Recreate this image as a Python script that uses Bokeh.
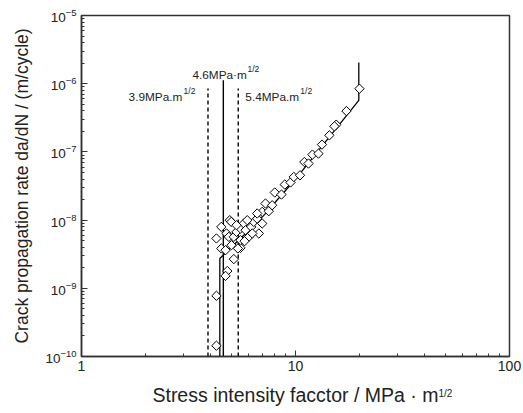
from bokeh.plotting import figure
from bokeh.models import FixedTicker, LogTickFormatter, Label
from bokeh.embed import file_html
from bokeh.resources import INLINE

# ---- data ----
delta_k = [4.27, 4.27, 4.80, 4.71, 5.15, 4.27, 4.50, 4.93, 5.01, 4.50, 4.71, 4.76, 4.88,
           5.15, 5.30, 5.53, 5.53, 5.73, 5.84, 6.05, 6.21, 6.38, 6.74, 6.62, 6.99, 6.99,
           7.24, 7.50, 7.78, 8.00, 8.60, 8.91, 9.48, 9.82, 10.5, 11.0, 11.5, 12.0, 12.8,
           13.3, 14.4, 15.5, 17.3, 19.9, 5.38, 5.53, 6.28, 6.62, 5.95, 5.30, 15.2, 5.02, 5.78]
dadn = [1.44e-10, 7.76e-10, 1.79e-9, 1.52e-9, 2.68e-9, 5.38e-9, 7.95e-9, 9.97e-9, 9.41e-9,
        3.84e-9, 3.62e-9, 6.37e-9, 5.68e-9, 5.68e-9, 6.71e-9, 3.92e-9, 7.53e-9, 8.91e-9,
        7.11e-9, 5.68e-9, 7.95e-9, 9.41e-9, 6.37e-9, 1.05e-8, 8.91e-9, 1.32e-8, 1.75e-8,
        1.35e-8, 1.65e-8, 2.54e-8, 2.37e-8, 3.32e-8, 3.56e-8, 4.29e-8, 4.54e-8, 7.11e-8,
        6.75e-8, 9.12e-8, 9.44e-8, 1.28e-7, 1.75e-7, 2.51e-7, 3.97e-7, 8.45e-7, 3.84e-9,
        5.08e-9, 6.37e-9, 1.25e-8, 9.97e-9, 8.41e-9, 2.37e-7, 4.29e-9, 4.91e-9]

fit_k = [4.43, 4.43, 5.73, 7.11, 10.2, 14.6, 19.76, 19.76]
fit_rate = [1e-10, 2.74e-9, 6.01e-9, 1.18e-8, 4.29e-8, 1.75e-7, 5.69e-7, 2.05e-6]

threshold_k = [3.9, 4.6, 5.4]
threshold_top = [8.5e-7, 1.12e-6, 8.5e-7]
threshold_style = ["4 3", "solid", "4 3"]
threshold_text = ["3.9MPa.m", "4.6MPa\u00b7m", "5.4MPa.m"]

x_ticks = [1, 10, 100]
x_tick_labels = ["1", "10", "100"]
y_ticks = [1e-10, 1e-9, 1e-8, 1e-7, 1e-6, 1e-5]

x_label = "Stress intensity facctor / MPa \u00b7 m"
x_label_sup = "1/2"
y_label = "Crack propagation rate da/dN / (m/cycle)"

FONT = "Liberation Sans"

p = figure(x_axis_type="log", y_axis_type="log",
           x_range=(1, 100), y_range=(1e-10, 1e-5),
           frame_width=428, frame_height=341,
           min_border_left=81, min_border_right=14, min_border_top=15, min_border_bottom=57,
           output_backend="svg", toolbar_location=None)
p.xgrid.visible = False
p.ygrid.visible = False
p.outline_line_color = "#333333"
p.outline_line_width = 1.5

x_minor = [m * d for d in (1, 10) for m in range(2, 10)]
y_minor = [m * d for d in y_ticks[:-1] for m in range(2, 10)]
p.xaxis.ticker = FixedTicker(ticks=x_ticks, minor_ticks=x_minor)
p.yaxis.ticker = FixedTicker(ticks=y_ticks, minor_ticks=y_minor)
p.xaxis.major_label_overrides = {t: l for t, l in zip(x_ticks, x_tick_labels)}
p.yaxis.formatter = LogTickFormatter()

for ax in (p.xaxis, p.yaxis):
    ax.axis_line_color = "#333333"
    ax.axis_line_width = 1.5
    ax.major_tick_in = 6
    ax.major_tick_out = 0
    ax.minor_tick_in = 3
    ax.minor_tick_out = 0
    ax.major_tick_line_color = "#333333"
    ax.minor_tick_line_color = "#333333"
    ax.major_label_text_font = FONT
    ax.major_label_text_color = "#222222"
    ax.axis_label_text_font = FONT
    ax.axis_label_text_font_style = "normal"
    ax.axis_label_text_color = "#222222"

p.xaxis.major_label_text_font_size = "14px"
p.yaxis.major_label_text_font_size = "13.5px"
p.xaxis.axis_label_text_font_size = "19.5px"
p.yaxis.axis_label_text_font_size = "17.5px"

p.xaxis.axis_label = x_label
p.yaxis.axis_label = y_label
p.xaxis.major_label_standoff = 4
p.xaxis.axis_label_standoff = 10
p.yaxis.major_label_standoff = 5
p.yaxis.axis_label_standoff = 10

# vertical threshold lines
for k, top, dash in zip(threshold_k, threshold_top, threshold_style):
    p.line([k, k], [1e-10, top], line_color="black", line_width=1.4, line_dash=dash)

# fitted curve
p.line(fit_k, fit_rate, line_color="black", line_width=1.3)

# measured points
p.scatter(delta_k, dadn, marker="square", size=6.6, angle=0.785398,
          fill_color="white", line_color="black", line_width=1.0)

# threshold annotations
label_pos = [(1.66, 6.4e-7), (3.30, 1.32e-6), (5.83, 6.4e-7)]
for (lx, ly), txt in zip(label_pos, threshold_text):
    p.add_layout(Label(x=lx, y=ly, text=txt, text_font=FONT, text_font_size="11.8px",
                       text_color="#222222", text_baseline="alphabetic"))
    p.add_layout(Label(x=lx, y=ly, x_offset=55, y_offset=6, text="1/2", text_font=FONT,
                       text_font_size="8.5px", text_color="#222222", text_baseline="alphabetic"))

# superscript of the x axis label, placed in the bottom side panel
p.add_layout(Label(x=357, y=26, x_units="screen", y_units="screen", text=x_label_sup,
                   text_font=FONT, text_font_size="10px", text_color="#222222",
                   text_baseline="alphabetic"), "below")

open("out.html", "w").write(file_html(p, INLINE))
